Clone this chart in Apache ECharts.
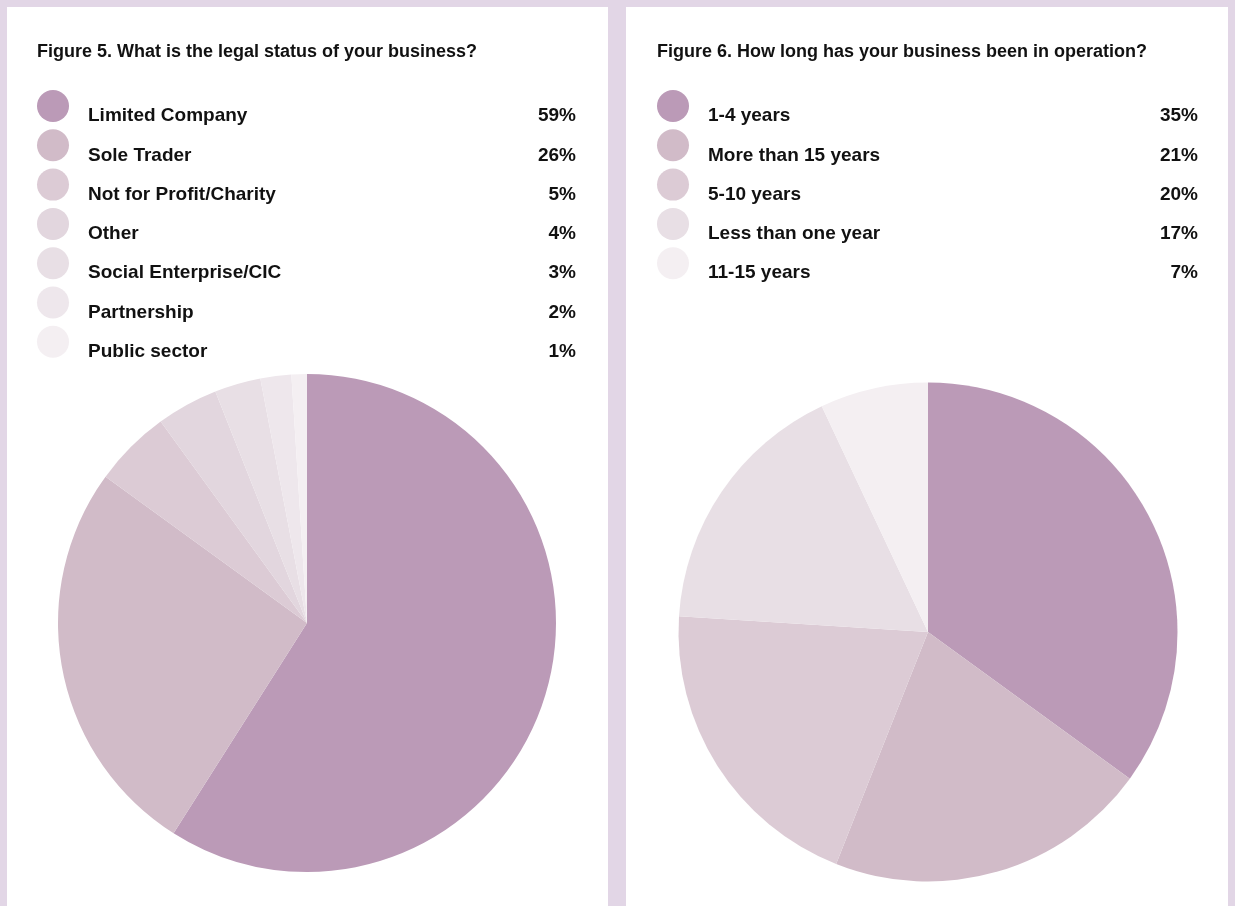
<!DOCTYPE html>
<html>
<head>
<meta charset="utf-8">
<title>Business survey: legal status and years in operation</title>
<script src="https://cdn.jsdelivr.net/npm/echarts@6/dist/echarts.min.js"></script>
<style>
  html, body { margin: 0; padding: 0; background: #e2d6e6; }
  #chart { width: 1235px; height: 906px; }
</style>
</head>
<body>
<div id="chart"></div>
<script>
// Figure 5: legal status (percent of respondents)
const statusCategories = [
  'Limited Company', 'Sole Trader', 'Not for Profit/Charity', 'Other',
  'Social Enterprise/CIC', 'Partnership', 'Public sector'
];
const statusValues = [59, 26, 5, 4, 3, 2, 1];

// Figure 6: time in operation (percent of respondents)
const ageCategories = [
  '1-4 years', 'More than 15 years', '5-10 years', 'Less than one year', '11-15 years'
];
const ageValues = [35, 21, 20, 17, 7];

// Palette: one shade per rank, darkest first
const statusPalette = ['#bb9ab7', '#d1bbc8', '#dccbd5', '#e2d6de', '#e8dfe5', '#eee7ec', '#f4eff2'];
const agePalette = ['#bb9ab7', '#d1bbc8', '#dccbd5', '#e8dfe5', '#f4eff2'];

const FONT = '"Liberation Sans", Arial, Helvetica, sans-serif';
const INK = '#111111';

function toItems(names, values, palette) {
  return names.map((n, i) => ({ name: n, value: values[i], itemStyle: { color: palette[i] } }));
}

// Vertical legend: circle swatch, bold name, percentage right-aligned on the same row
function makeLegend(names, values, left, top, rowWidth) {
  const lookup = {};
  names.forEach((n, i) => { lookup[n] = values[i]; });
  return {
    data: names,
    orient: 'vertical',
    left: left,
    top: top,
    padding: 0,
    itemGap: 3.8,
    icon: 'circle',
    itemWidth: 32,
    itemHeight: 32,
    selectedMode: false,
    formatter: name => '{n|' + name + '}{v|' + lookup[name] + '%}',
    textStyle: {
      padding: [20, 0, 0, 14],
      rich: {
        n: { width: rowWidth - 48, fontFamily: FONT, fontWeight: 'bold', fontSize: 19, color: INK, lineHeight: 22, align: 'left' },
        v: { width: 48, fontFamily: FONT, fontWeight: 'bold', fontSize: 19, color: INK, lineHeight: 22, align: 'right' }
      }
    }
  };
}

function makePie(name, items, center, radius) {
  return {
    type: 'pie',
    name: name,
    center: center,
    radius: radius,
    startAngle: 90,
    clockwise: true,
    data: items,
    label: { show: false },
    labelLine: { show: false },
    itemStyle: { borderWidth: 0 },
    emphasis: { disabled: true },
    silent: true
  };
}

const chart = echarts.init(document.getElementById('chart'), null, { renderer: 'canvas' });

chart.setOption({
  backgroundColor: '#e2d6e6',
  animation: false,
  graphic: [
    { type: 'rect', z: -10, shape: { x: 7, y: 7, width: 601, height: 920 }, style: { fill: '#ffffff' }, silent: true },
    { type: 'rect', z: -10, shape: { x: 626, y: 7, width: 602, height: 920 }, style: { fill: '#ffffff' }, silent: true }
  ],
  title: [
    {
      text: 'Figure 5. What is the legal status of your business?',
      left: 37, top: 41, padding: 0,
      textStyle: { fontFamily: FONT, fontWeight: 'bold', fontSize: 18, color: INK, lineHeight: 22 }
    },
    {
      text: 'Figure 6. How long has your business been in operation?',
      left: 657, top: 41, padding: 0,
      textStyle: { fontFamily: FONT, fontWeight: 'bold', fontSize: 18, color: INK, lineHeight: 22 }
    }
  ],
  legend: [
    makeLegend(statusCategories, statusValues, 37, 90, 488),
    makeLegend(ageCategories, ageValues, 657, 90, 490)
  ],
  series: [
    makePie('Legal status', toItems(statusCategories, statusValues, statusPalette), [307, 623], 249),
    makePie('Time in operation', toItems(ageCategories, ageValues, agePalette), [928, 632], 249.5)
  ]
});
</script>
</body>
</html>
